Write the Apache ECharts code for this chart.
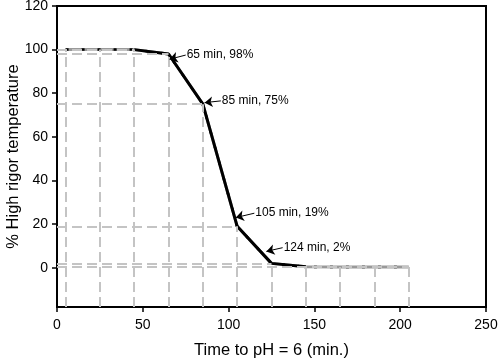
<!DOCTYPE html>
<html>
<head>
<meta charset="utf-8">
<script src="https://cdn.jsdelivr.net/npm/echarts@6/dist/echarts.min.js"></script>
<style>
  html, body { margin: 0; padding: 0; background: #fff; }
  #chart { width: 500px; height: 361px; }
</style>
</head>
<body>
<div id="chart"></div>
<script>
// time to pH = 6 (min.) and % high rigor temperature
var times = [5, 25, 45, 65, 85, 105, 125, 145, 165, 185, 205];
var percents = [100, 100, 100, 98, 75, 19, 2, 0.4, 0.3, 0.3, 0.3];
// steep part drawn as a solid black line (index range)
var steepFrom = 2, steepTo = 7;
var xTicks = [0, 50, 100, 150, 200, 250];
var yTicks = [0, 20, 40, 60, 80, 100, 120];
var yMin = -18;
// annotations: text, arrow tail [x, y], arrow tip [x, y]
var noteTexts = ['65 min, 98%', '85 min, 75%', '105 min, 19%', '124 min, 2%'];
var noteTails = [[75, 97.5], [95.5, 76.5], [115, 25], [131.5, 9.2]];
var noteTips = [[65.6, 95.6], [86, 75.7], [104.2, 23], [122, 7.5]];

var pts = times.map(function (t, i) { return [t, percents[i]]; });
var steep = pts.map(function (p, i) { return (i >= steepFrom && i <= steepTo) ? p : [p[0], null]; });

// gray dashed guide lines from the axes to every point
var guides = [];
pts.forEach(function (p) {
    guides.push([{ coord: [p[0], yMin] }, { coord: [p[0], p[1]] }]);
    guides.push([{ coord: [0, p[1]] }, { coord: [p[0], p[1]] }]);
});

var notes = noteTexts.map(function (txt, i) {
    return [
        { coord: noteTails[i], label: { formatter: txt } },
        { coord: noteTips[i] }
    ];
});

var font = 'Liberation Sans, Arial, sans-serif';
var myChart = echarts.init(document.getElementById('chart'));
var option = {
    animation: false,
    grid: {
        left: 57, right: 14, top: 6, bottom: 54,
        outerBoundsMode: 'none',
        containLabel: false,
        show: true, borderColor: '#000', borderWidth: 2
    },
    xAxis: {
        type: 'value',
        min: 0, max: 250, interval: 50,
        name: 'Time to pH = 6 (min.)',
        nameLocation: 'middle',
        nameGap: 35,
        nameMoveOverlap: false,
        nameTextStyle: { fontFamily: font, fontSize: 16.5, color: '#000' },
        axisLine: { onZero: false, lineStyle: { color: '#000', width: 2 } },
        axisTick: { length: 5, lineStyle: { color: '#000', width: 1.5 } },
        axisLabel: { fontFamily: font, fontSize: 14, color: '#000', margin: 11 },
        splitLine: { show: false }
    },
    yAxis: {
        type: 'value',
        min: yMin, max: 120,
        name: '% High rigor temperature',
        nameLocation: 'middle',
        nameGap: 35,
        nameMoveOverlap: false,
        nameTextStyle: { fontFamily: font, fontSize: 16.5, color: '#000' },
        axisLine: { lineStyle: { color: '#000', width: 2 } },
        axisTick: { length: 5, customValues: yTicks, lineStyle: { color: '#000', width: 1.5 } },
        axisLabel: { fontFamily: font, fontSize: 14, color: '#000', margin: 9, customValues: yTicks },
        splitLine: { show: false }
    },
    series: [
        {
            type: 'line',
            data: pts,
            symbol: 'none',
            silent: true,
            z: 2,
            lineStyle: { color: '#999', width: 3 },
            markLine: {
                silent: true,
                symbol: 'none',
                label: { show: false },
                lineStyle: { color: '#c4c4c4', width: 2, type: [10, 5] },
                data: guides
            }
        },
        {
            type: 'line',
            data: pts,
            symbol: 'none',
            silent: true,
            z: 3,
            lineStyle: { color: '#000', width: 2.5, type: [3, 13] }
        },
        {
            type: 'line',
            data: steep,
            symbol: 'none',
            silent: true,
            z: 4,
            lineStyle: { color: '#000', width: 3 },
            markLine: {
                silent: true,
                symbol: ['none', 'arrow'],
                symbolSize: 8,
                lineStyle: { color: '#000', width: 1, type: 'solid' },
                label: {
                    show: true, position: 'start', distance: 1,
                    fontFamily: font, fontSize: 12, color: '#000'
                },
                data: notes
            }
        }
    ]
};
myChart.setOption(option, true);
</script>
</body>
</html>
